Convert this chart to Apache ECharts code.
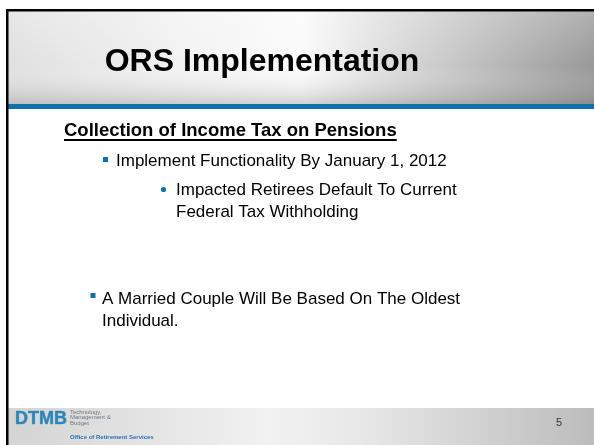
<!DOCTYPE html>
<html>
<head>
<meta charset="utf-8">
<script src="https://cdn.jsdelivr.net/npm/echarts@6/dist/echarts.min.js"></script>
<style>
  html, body { margin: 0; padding: 0; background: #fff; }
  #chart { width: 594px; height: 445px; }
</style>
</head>
<body>
<div id="chart"></div>
<script>
// slide text
const title = 'ORS Implementation';
const heading = 'Collection of Income Tax on Pensions';
const bullet1 = ['Implement Functionality By January 1, 2012'];
const subBullet1 = ['Impacted Retirees Default To Current', 'Federal Tax Withholding'];
const bullet2 = ['A Married Couple Will Be Based On The Oldest', 'Individual.'];
const logoLines = ['Technology,', 'Management &', 'Budget'];
const logoFooter = 'Office of Retirement Services';
const pageNumber = '5';

const FONT = 'Arial, "Liberation Sans", sans-serif';
const BLUE = '#1170ab';

const chart = echarts.init(document.getElementById('chart'), null, { renderer: 'canvas' });

// measure text so the underline fits the heading
function textWidth(txt, font) {
    const c = document.createElement('canvas').getContext('2d');
    c.font = font;
    return c.measureText(txt).width;
}

function textLines(lines, x, y0, step, font) {
    return lines.map((t, i) => ({
        type: 'text',
        x: x,
        y: y0 + i * step,
        style: {
            text: t,
            font: font,
            fill: '#000',
            verticalAlign: 'middle'
        }
    }));
}

const bodyFont = '17px ' + FONT;
const headFont = 'bold 18.5px ' + FONT;
const headW = textWidth(heading, headFont);

const elements = [
    // header band
    {
        type: 'rect',
        shape: { x: 6, y: 9, width: 588, height: 96 },
        style: {
            fill: new echarts.graphic.LinearGradient(0, 0, 1, 0, [
                { offset: 0, color: '#e0e0e0' },
                { offset: 0.3, color: '#f2f2f2' },
                { offset: 0.5, color: '#fbfbfb' },
                { offset: 0.62, color: '#e2e2e2' },
                { offset: 1, color: '#989898' }
            ])
        }
    },
    {
        type: 'rect',
        shape: { x: 6, y: 9, width: 588, height: 96 },
        style: {
            fill: new echarts.graphic.LinearGradient(0, 0, 0, 1, [
                { offset: 0, color: 'rgba(255,255,255,0.25)' },
                { offset: 0.6, color: 'rgba(255,255,255,0)' },
                { offset: 1, color: 'rgba(110,110,110,0.3)' }
            ])
        }
    },
    // blue rule under header
    { type: 'rect', shape: { x: 6, y: 104, width: 588, height: 5 }, style: { fill: BLUE } },
    // footer band
    {
        type: 'rect',
        shape: { x: 6, y: 408, width: 588, height: 37 },
        style: {
            fill: new echarts.graphic.LinearGradient(0, 0, 1, 0, [
                { offset: 0, color: '#d4d4d4' },
                { offset: 0.45, color: '#f2f2f2' },
                { offset: 0.6, color: '#e8e8e8' },
                { offset: 1, color: '#bcbcbc' }
            ])
        }
    },
    // black frame (top and left)
    { type: 'rect', shape: { x: 6, y: 9, width: 588, height: 2.5 }, style: { fill: '#000' } },
    { type: 'rect', shape: { x: 6, y: 9, width: 2.5, height: 436 }, style: { fill: '#000' } },
    // title
    {
        type: 'text',
        x: 262,
        y: 62,
        style: {
            text: title,
            font: 'bold 32px ' + FONT,
            fill: '#000',
            align: 'center',
            verticalAlign: 'middle'
        }
    },
    // heading + underline
    {
        type: 'text',
        x: 64,
        y: 131,
        style: { text: heading, font: headFont, fill: '#000', verticalAlign: 'middle' }
    },
    { type: 'rect', shape: { x: 64, y: 139, width: headW, height: 2 }, style: { fill: '#000' } },
    // bullets
    { type: 'rect', shape: { x: 103, y: 157, width: 5, height: 5 }, style: { fill: BLUE } },
    ...textLines(bullet1, 116, 161, 22, bodyFont),
    { type: 'circle', shape: { cx: 163.5, cy: 189.5, r: 2.6 }, style: { fill: BLUE } },
    ...textLines(subBullet1, 176, 190, 22, bodyFont),
    { type: 'rect', shape: { x: 90.5, y: 293, width: 5, height: 5 }, style: { fill: BLUE } },
    ...textLines(bullet2, 102, 299, 22, bodyFont),
    // logo
    {
        type: 'text',
        x: 15,
        y: 419,
        style: {
            text: 'DTMB',
            font: 'bold 18px ' + FONT,
            fill: '#2c84bd',
            stroke: '#5aa7a0',
            lineWidth: 0.6,
            verticalAlign: 'middle'
        }
    },
    ...logoLines.map((t, i) => ({
        type: 'text',
        x: 70,
        y: 412 + i * 5.5,
        style: { text: t, font: '6px ' + FONT, fill: '#6b7a86', verticalAlign: 'middle' }
    })),
    {
        type: 'text',
        x: 70,
        y: 437,
        style: { text: logoFooter, font: 'bold 6px ' + FONT, fill: '#2a72b8', verticalAlign: 'middle' }
    },
    // page number
    {
        type: 'text',
        x: 559,
        y: 423,
        style: { text: pageNumber, font: '11px ' + FONT, fill: '#333', align: 'center', verticalAlign: 'middle' }
    }
];

chart.setOption({
    backgroundColor: '#fff',
    animation: false,
    graphic: { elements }
});

window.addEventListener('resize', () => chart.resize());
</script>
</body>
</html>
